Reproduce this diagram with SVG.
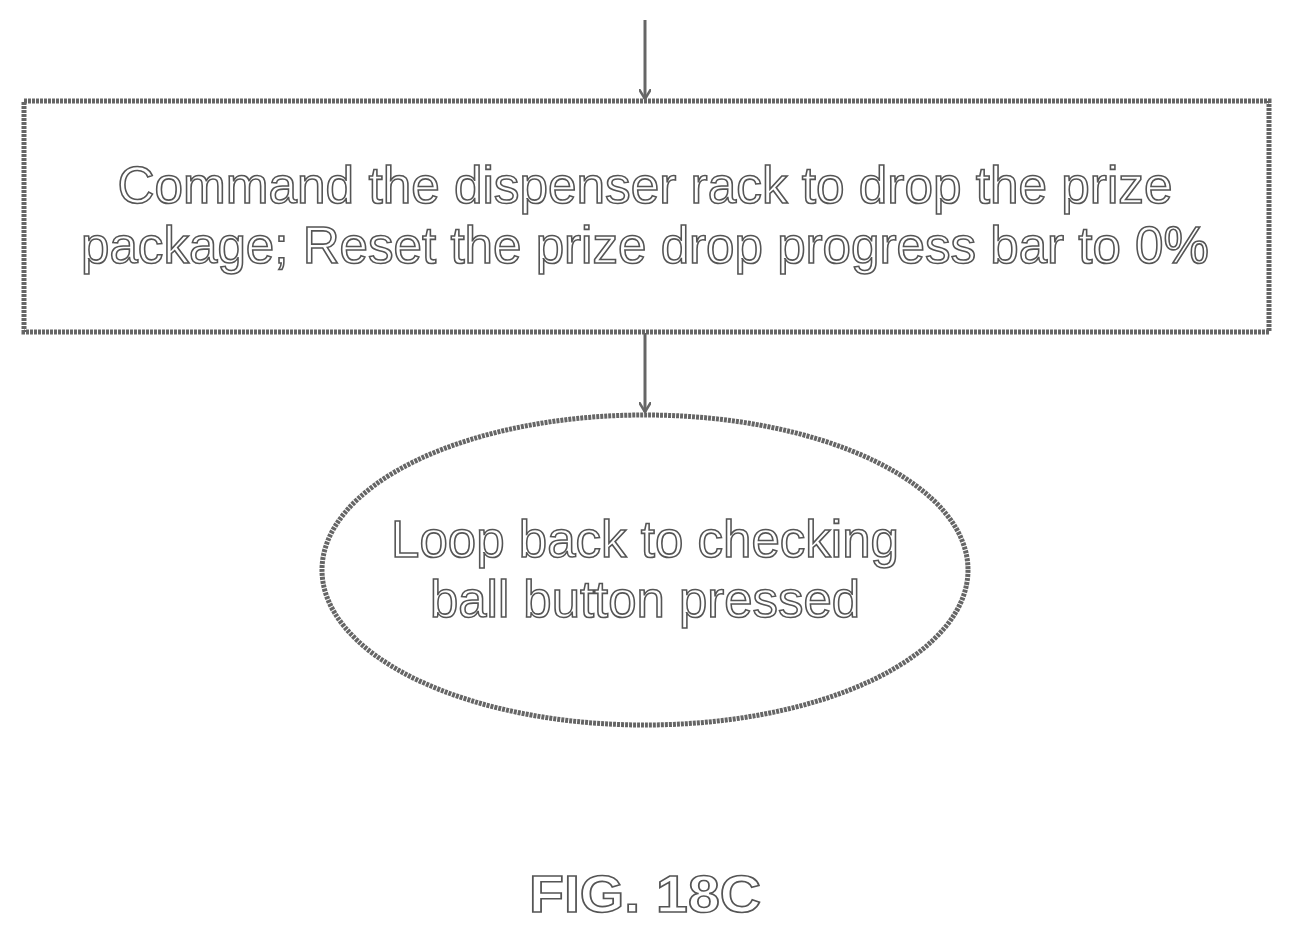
<svg xmlns="http://www.w3.org/2000/svg" width="1293" height="936" viewBox="0 0 1293 936">
<style>
.s{fill:none;stroke:#666;stroke-width:5;stroke-dasharray:3 1}
.t{font-family:"Liberation Sans",Arial,sans-serif;font-size:52px;fill:#fff;stroke:#555;stroke-width:1.6;text-anchor:middle}
.c{stroke:#666;stroke-width:3;fill:none}
</style>
<defs><marker id="a" markerWidth="12" markerHeight="12" refX="10" refY="6" orient="auto" markerUnits="userSpaceOnUse"><path d="M0,0 L10,6 L0,12" fill="none" stroke="#666" stroke-width="2.5"/></marker></defs>
<rect width="1293" height="936" fill="#fff"/>
<g id="connectors">
<line class="c" x1="645" y1="20" x2="645" y2="99" marker-end="url(#a)"/>
<line class="c" x1="645" y1="333" x2="645" y2="412" marker-end="url(#a)"/>
</g>
<g id="box"><rect class="s" x="24" y="101" width="1245" height="231"/>
<text class="t" x="645" y="203" textLength="1055" lengthAdjust="spacingAndGlyphs">Command the dispenser rack to drop the prize</text>
<text class="t" x="645" y="263" textLength="1128" lengthAdjust="spacingAndGlyphs">package; Reset the prize drop progress bar to 0%</text></g>
<g id="loop"><ellipse class="s" cx="645" cy="570" rx="323" ry="155"/>
<text class="t" x="645" y="557" textLength="508" lengthAdjust="spacingAndGlyphs">Loop back to checking</text>
<text class="t" x="645" y="617" textLength="430" lengthAdjust="spacingAndGlyphs">ball button pressed</text></g>
<text class="t" x="645" y="912" font-weight="bold" font-size="58" textLength="232" lengthAdjust="spacingAndGlyphs">FIG. 18C</text>
</svg>
